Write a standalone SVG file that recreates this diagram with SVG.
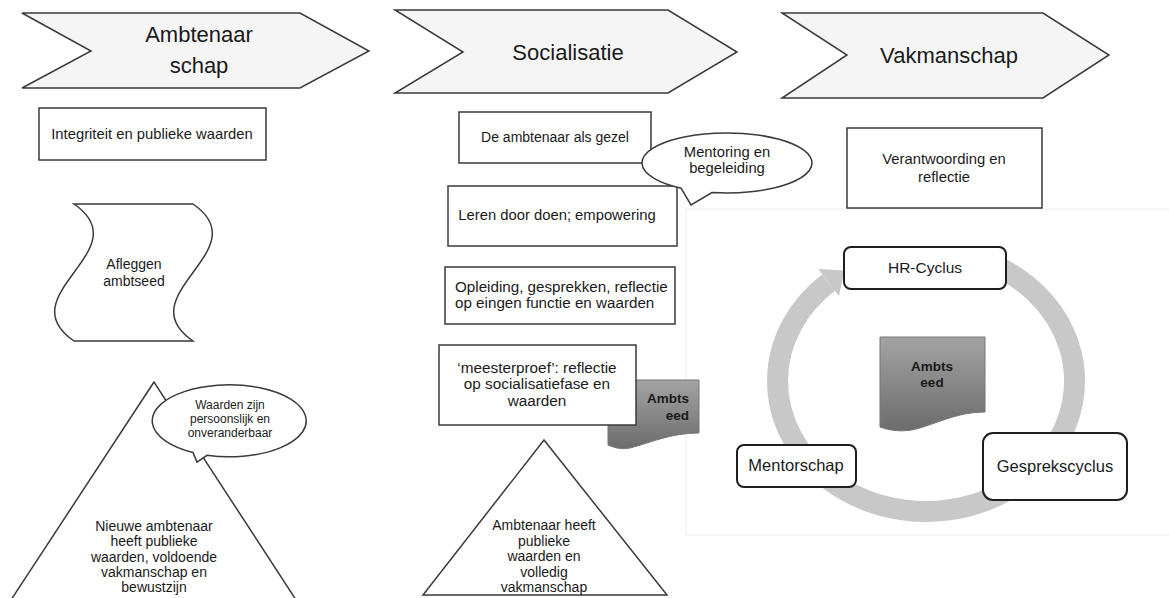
<svg xmlns="http://www.w3.org/2000/svg" width="1169" height="598" viewBox="0 0 1169 598">
<style>
text{font-family:"Liberation Sans",Arial,sans-serif;fill:#1a1a1a;text-anchor:middle}
.chev{fill:#f5f5f5;stroke:#3a3a3a;stroke-width:1.5}
.box{fill:#fff;stroke:#3a3a3a;stroke-width:1.5}
.rbox{fill:#fff;stroke:#1e1e1e;stroke-width:2}
.title{font-size:22px}
.t14{font-size:14px}
.t15{font-size:14.8px}
.t12{font-size:12px}
.t16{font-size:16.5px}
.bold{font-weight:bold;font-size:13.5px}
.doc{fill:url(#g);stroke:#777;stroke-width:1}
</style>
<defs>
<linearGradient id="g" x1="0" y1="0" x2="0" y2="1">
<stop offset="0" stop-color="#a3a3a3"/>
<stop offset="1" stop-color="#6c6c6c"/>
</linearGradient>
</defs>
<rect x="0" y="0" width="1169" height="598" fill="#fff"/>
<rect id="panel" x="686" y="209" width="490" height="326" fill="#fff" stroke="#ececec" stroke-width="1"/>

<g id="chevron-ambtenaarschap">
<polygon class="chev" points="22,13 300,13 369,51 300,88 22,88 91,51"/>
<text class="title" x="199" y="42">Ambtenaar</text>
<text class="title" x="199" y="73">schap</text>
</g>
<g id="chevron-socialisatie">
<polygon class="chev" points="395,10 668,10 737,52 668,93 395,93 463,52"/>
<text class="title" x="568" y="60">Socialisatie</text>
</g>
<g id="chevron-vakmanschap">
<polygon class="chev" points="782,13 1043,13 1109,55 1043,98 782,98 847,55"/>
<text class="title" x="949" y="63">Vakmanschap</text>
</g>

<g id="integriteit">
<rect class="box" x="39" y="108" width="227" height="52"/>
<text class="t15" x="152" y="139">Integriteit en publieke waarden</text>
</g>
<g id="afleggen">
<path class="box" d="M74,204 L193,204 C260,250 126,295 193,341 L74,341 C7,295 141,250 74,204 Z"/>
<text class="t14" x="134" y="269">Afleggen</text>
<text class="t14" x="134" y="286">ambtseed</text>
</g>
<g id="triangle-left">
<polygon class="box" points="154,382 7,606 300,606"/>
<text class="t14" x="154" y="531">Nieuwe ambtenaar</text>
<text class="t14" x="154" y="546">heeft publieke</text>
<text class="t14" x="154" y="562">waarden, voldoende</text>
<text class="t14" x="154" y="577">vakmanschap en</text>
<text class="t14" x="154" y="592">bewustzijn</text>
</g>
<g id="callout-waarden">
<path class="box" d="M193,452.6 L197,462 L207,455.3 A77,36 0 1 0 193,452.6 Z"/>
<text class="t12" x="230" y="409">Waarden zijn</text>
<text class="t12" x="230" y="423">persoonslijk en</text>
<text class="t12" x="230" y="437">onveranderbaar</text>
</g>

<g id="gezel">
<rect class="box" x="459" y="112" width="192" height="51"/>
<text class="t14" x="555" y="142">De ambtenaar als gezel</text>
</g>
<g id="leren">
<rect class="box" x="448" y="186" width="229" height="60"/>
<text class="t15" x="557" y="220">Leren door doen; empowering</text>
</g>
<g id="callout-mentoring">
<path class="box" d="M681,188.2 L691,205 L712,192.5 A85,30 0 1 0 681,188.2 Z"/>
<text class="t15" x="727" y="157">Mentoring en</text>
<text class="t15" x="727" y="173">begeleiding</text>
</g>
<g id="opleiding">
<rect class="box" x="445" y="267" width="230" height="57"/>
<text x="455" y="292" style="text-anchor:start;font-size:15.2px">Opleiding, gesprekken, reflectie</text>
<text x="455" y="308" style="text-anchor:start;font-size:15.2px">op eingen functie en waarden</text>
</g>
<g id="doc-mid">
<path class="doc" d="M608,380 H699 V433 C670,433 650,443 630,448 C620,450 613,447 608,445 Z"/>
<text class="bold" x="689" y="403" style="text-anchor:end">Ambts</text>
<text class="bold" x="689" y="420" style="text-anchor:end">eed</text>
</g>
<g id="meesterproef">
<rect class="box" x="439" y="345" width="197" height="80"/>
<text x="537" y="373" style="font-size:15.3px">‘meesterproef’: reflectie</text>
<text x="537" y="389" style="font-size:15.3px">op socialisatiefase en</text>
<text x="537" y="406" style="font-size:15.3px">waarden</text>
</g>
<g id="triangle-mid">
<polygon class="box" points="544,440 423,595 667,595"/>
<text class="t14" x="544" y="530">Ambtenaar heeft</text>
<text class="t14" x="544" y="546">publieke</text>
<text class="t14" x="544" y="561">waarden en</text>
<text class="t14" x="544" y="577">volledig</text>
<text class="t14" x="544" y="592">vakmanschap</text>
</g>

<g id="verantwoording">
<rect class="box" x="847" y="128" width="195" height="80"/>
<text class="t15" x="944" y="164">Verantwoording en</text>
<text class="t15" x="944" y="182">reflectie</text>
</g>

<g id="connectors">
<path d="M988.8,262.7 A148.5,130.5 0 1 1 828.6,282.5" fill="none" stroke="#c8c8c8" stroke-width="21"/>
<polygon points="844.5,270.4 838.9,296 818.3,269" fill="#c8c8c8"/>
</g>

<g id="doc-center">
<path class="doc" d="M880,337 H985 V412 C955,412 935,425 912,430 C898,432 888,430 880,427 Z"/>
<text class="bold" x="932" y="371">Ambts</text>
<text class="bold" x="932" y="387">eed</text>
</g>
<g id="hr-cyclus">
<rect class="rbox" x="844" y="247" width="162" height="42" rx="7"/>
<text x="925" y="273" style="font-size:15.5px">HR-Cyclus</text>
</g>
<g id="mentorschap">
<rect class="rbox" x="737" y="445" width="119" height="42" rx="7"/>
<text class="t16" x="796" y="471">Mentorschap</text>
</g>
<g id="gesprekscyclus">
<rect class="rbox" x="983" y="433" width="144" height="67" rx="10"/>
<text class="t16" x="1055" y="472">Gesprekscyclus</text>
</g>
</svg>
